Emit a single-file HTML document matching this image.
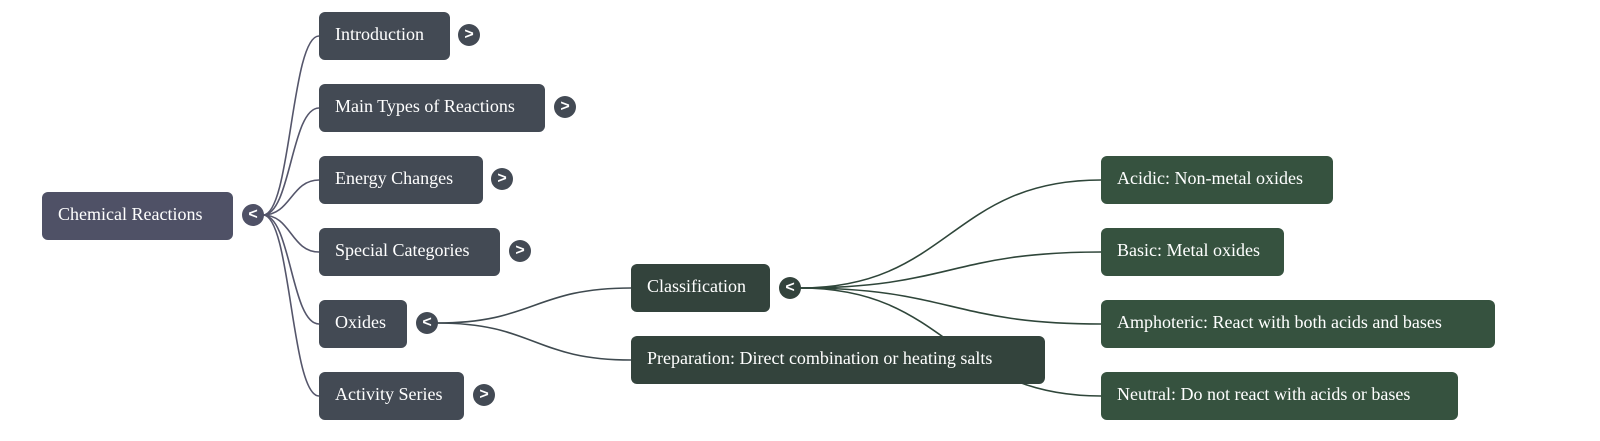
<!DOCTYPE html>
<html><head><style>
body{margin:0;width:1600px;height:441px;background:#fff;position:relative;overflow:hidden;font-family:"Liberation Serif",serif}
.n{position:absolute;height:48px;line-height:45px;color:#fff;font-size:18px;padding-left:16px;box-sizing:border-box;border-radius:6px}
.r{background:#4f5166}.a{background:#434a54}.b{background:#33433c}.c{background:#36523f}
.t{position:absolute;width:22px;height:22px;border-radius:50%;background:#434a54;color:#fff;font:bold 16px/21px "Liberation Sans",sans-serif;text-align:center}
svg{position:absolute;left:0;top:0}
</style></head><body>
<svg width="1600" height="441" fill="none">
<g stroke="#55566b" stroke-width="1.6">
<path d="M263 215 C291 215 291 36 319 36"/>
<path d="M263 215 C291 215 291 108 319 108"/>
<path d="M263 215 C291 215 291 180 319 180"/>
<path d="M263 215 C291 215 291 252 319 252"/>
<path d="M263 215 C291 215 291 324 319 324"/>
<path d="M263 215 C291 215 291 396 319 396"/>
</g>
<g stroke="#3f4a50" stroke-width="1.6">
<path d="M437 323 C534 323 534 288 631 288"/>
<path d="M437 323 C534 323 534 360 631 360"/>
</g>
<g stroke="#2f463a" stroke-width="1.6">
<path d="M800 288 C950 288 950 180 1101 180"/>
<path d="M800 288 C950 288 950 252 1101 252"/>
<path d="M800 288 C950 288 950 324 1101 324"/>
<path d="M800 288 C950 288 950 396 1101 396"/>
</g>
</svg>
<div class="n r" style="left:42px;top:192px;width:191px">Chemical Reactions</div>
<div class="t" style="left:242px;top:204px;background:#4f5166">&lt;</div>
<div class="n a" style="left:319px;top:12px;width:131px">Introduction</div><div class="t" style="left:458px;top:24px">&gt;</div>
<div class="n a" style="left:319px;top:84px;width:226px">Main Types of Reactions</div><div class="t" style="left:554px;top:96px">&gt;</div>
<div class="n a" style="left:319px;top:156px;width:164px">Energy Changes</div><div class="t" style="left:491px;top:168px">&gt;</div>
<div class="n a" style="left:319px;top:228px;width:181px">Special Categories</div><div class="t" style="left:509px;top:240px">&gt;</div>
<div class="n a" style="left:319px;top:300px;width:88px">Oxides</div><div class="t" style="left:416px;top:312px">&lt;</div>
<div class="n a" style="left:319px;top:372px;width:145px">Activity Series</div><div class="t" style="left:473px;top:384px">&gt;</div>
<div class="n b" style="left:631px;top:264px;width:139px">Classification</div><div class="t" style="left:779px;top:277px;background:#33433c">&lt;</div>
<div class="n b" style="left:631px;top:336px;width:414px">Preparation: Direct combination or heating salts</div>
<div class="n c" style="left:1101px;top:156px;width:232px">Acidic: Non-metal oxides</div>
<div class="n c" style="left:1101px;top:228px;width:183px">Basic: Metal oxides</div>
<div class="n c" style="left:1101px;top:300px;width:394px">Amphoteric: React with both acids and bases</div>
<div class="n c" style="left:1101px;top:372px;width:357px">Neutral: Do not react with acids or bases</div>
</body></html>
